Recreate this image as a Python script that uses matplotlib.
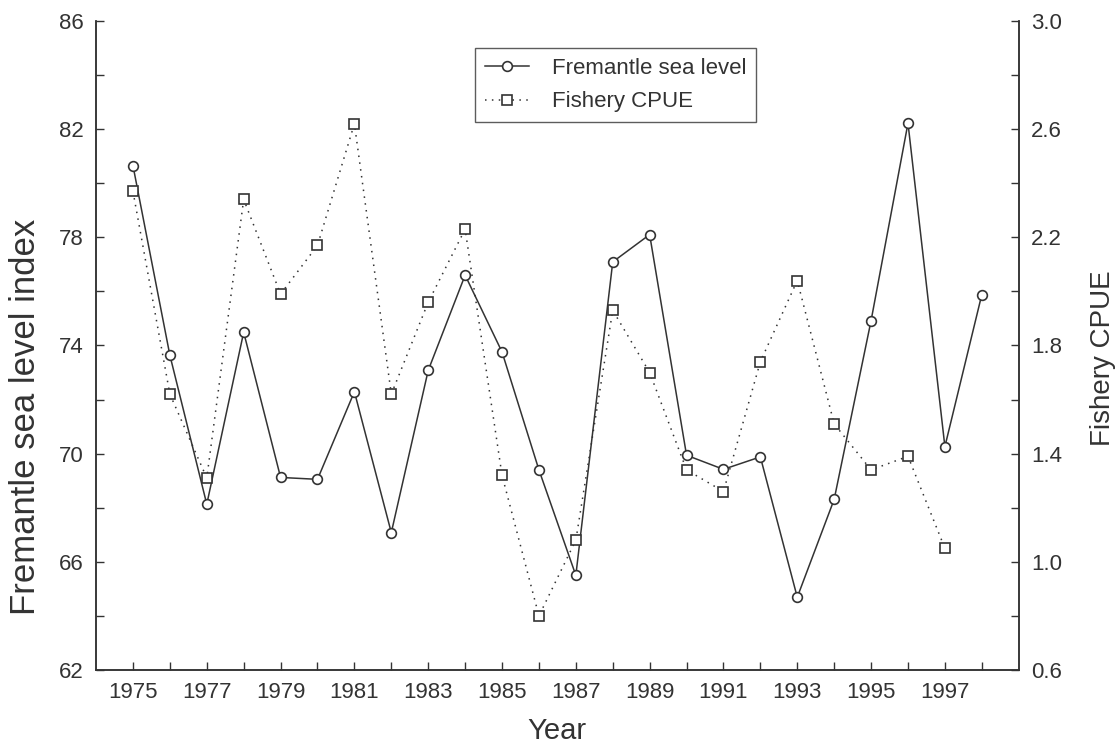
import matplotlib.pyplot as plt

plt.rcParams['font.family'] = ['Liberation Sans', 'DejaVu Sans']

ink = '#333333'

years = list(range(1975, 1999))
sea_level = [80.65, 73.64, 68.13, 74.49, 69.12, 69.05, 72.29, 67.08, 73.08, 76.6,
             73.76, 69.4, 65.5, 77.09, 78.1, 69.94, 69.42, 69.88, 64.69, 68.31,
             74.92, 82.22, 70.26, 75.88]
cpue_years = list(range(1975, 1998))
cpue = [2.37, 1.62, 1.31, 2.34, 1.99, 2.17, 2.62, 1.62, 1.96, 2.23,
        1.32, 0.80, 1.08, 1.93, 1.70, 1.34, 1.26, 1.74, 2.04, 1.51,
        1.34, 1.39, 1.05]

left_ticks = [62, 66, 70, 74, 78, 82, 86]
right_ticks = [0.6, 1.0, 1.4, 1.8, 2.2, 2.6, 3.0]
x_labels = list(range(1975, 1998, 2))

fig = plt.figure(figsize=(11.17, 7.49), dpi=100)
ax = fig.add_axes([0.086, 0.1055, 0.826, 0.8665])
ax2 = ax.twinx()

l1, = ax.plot(years, sea_level, color=ink, lw=1.1, marker='o', ms=7,
              mfc='white', mec=ink, mew=1.2, label='Fremantle sea level')
l2, = ax2.plot(cpue_years, cpue, color=ink, lw=1.1, ls=(0, (1, 3.5)), marker='s',
               ms=7.5, mfc='white', mec=ink, mew=1.2, label='Fishery CPUE')

ax.set_xlim(1974, 1999)
ax.set_ylim(62, 86)
ax2.set_ylim(0.6, 3.0)

ax.set_xticks(range(1975, 1999), minor=True)
ax.set_xticks(x_labels)
ax.set_xticklabels([str(y) for y in x_labels])
ax.set_yticks(left_ticks)
ax.set_yticks(range(64, 86, 4), minor=True)
ax2.set_yticks(right_ticks)
ax2.set_yticklabels([f'{v:.1f}' for v in right_ticks])
ax2.set_yticks([0.8, 1.2, 1.6, 2.0, 2.4, 2.8], minor=True)

for a in (ax, ax2):
    a.spines['top'].set_visible(False)
    for s in a.spines.values():
        s.set_color(ink)
        s.set_linewidth(1.1)
    a.tick_params(which='both', direction='in', length=5.5, width=1, color=ink,
                  labelcolor=ink, labelsize=16, pad=9)

ax.set_xlabel('Year', fontsize=21, color=ink, labelpad=10)
ax.set_ylabel('Fremantle sea level index', fontsize=25, color=ink, labelpad=12)
ax2.set_ylabel('Fishery CPUE', fontsize=20, color=ink, labelpad=20)
# labels in the original sit a little below the axis middle
ax.yaxis.label.set_y(0.39)
ax2.yaxis.label.set_y(0.48)

leg = ax2.legend(handles=[l1, l2], loc='upper center', bbox_to_anchor=(0.563, 0.958),
                 fontsize=16, frameon=True, fancybox=False, handlelength=2.0,
                 borderpad=0.45, labelspacing=0.55, handletextpad=1.0,
                 borderaxespad=0)
leg.get_frame().set_edgecolor(ink)
leg.get_frame().set_linewidth(1.0)
for t in leg.get_texts():
    t.set_color(ink)

fig.savefig('out.png', dpi=100)
